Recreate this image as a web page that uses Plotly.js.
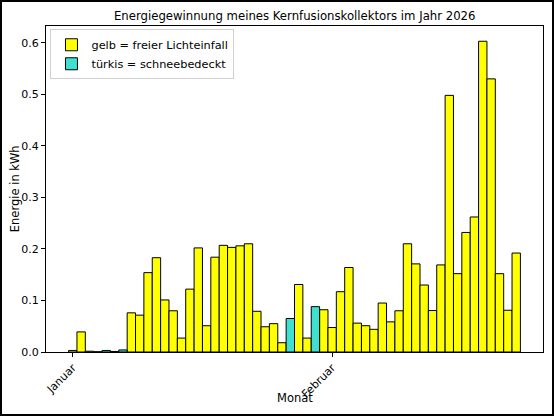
<!DOCTYPE html>
<html>
<head>
<meta charset="utf-8">
<script src="https://cdn.plot.ly/plotly-3.0.1.min.js"></script>
<style>
    html, body { margin: 0; padding: 0; background: #fff; }
    #wrap { position: relative; width: 554px; height: 416px; }
    #plot { width: 554px; height: 416px; }
    #frame { position: absolute; left: 0; top: 0; width: 554px; height: 416px;
             box-sizing: border-box; border: 2px solid #000; pointer-events: none; }
</style>
</head>
<body>
<div id="wrap">
    <div id="plot"></div>
    <div id="frame"></div>
</div>
<script>
// Tage 1. Januar – 23. Februar 2026
const days = [
    '2026-01-01','2026-01-02','2026-01-03','2026-01-04','2026-01-05','2026-01-06','2026-01-07',
    '2026-01-08','2026-01-09','2026-01-10','2026-01-11','2026-01-12','2026-01-13','2026-01-14',
    '2026-01-15','2026-01-16','2026-01-17','2026-01-18','2026-01-19','2026-01-20','2026-01-21',
    '2026-01-22','2026-01-23','2026-01-24','2026-01-25','2026-01-26','2026-01-27','2026-01-28',
    '2026-01-29','2026-01-30','2026-01-31','2026-02-01','2026-02-02','2026-02-03','2026-02-04',
    '2026-02-05','2026-02-06','2026-02-07','2026-02-08','2026-02-09','2026-02-10','2026-02-11',
    '2026-02-12','2026-02-13','2026-02-14','2026-02-15','2026-02-16','2026-02-17','2026-02-18',
    '2026-02-19','2026-02-20','2026-02-21','2026-02-22','2026-02-23'
];

// Energie in kWh pro Tag
const energy = [
    0.003, 0.039, 0.0015, 0.0005, 0.003, 0.001, 0.004,
    0.076, 0.0715, 0.154, 0.183, 0.101, 0.080, 0.027,
    0.122, 0.202, 0.051, 0.184, 0.207, 0.203, 0.206,
    0.210, 0.079, 0.049, 0.055, 0.018, 0.065, 0.131,
    0.027, 0.088, 0.082, 0.0475, 0.117, 0.164, 0.056,
    0.051, 0.044, 0.095, 0.0585, 0.080, 0.210, 0.171,
    0.130, 0.0805, 0.169, 0.498, 0.152, 0.232, 0.262,
    0.603, 0.530, 0.152, 0.081, 0.192
];

// schneebedeckt (1) oder freier Lichteinfall (0)
const snow = [
    0, 0, 0, 0, 1, 0, 1,
    0, 0, 0, 0, 0, 0, 0,
    0, 0, 0, 0, 0, 0, 0,
    0, 0, 0, 0, 0, 1, 0,
    0, 1, 0, 0, 0, 0, 0,
    0, 0, 0, 0, 0, 0, 0,
    0, 0, 0, 0, 0, 0, 0,
    0, 0, 0, 0, 0
];

const tickDays   = ['2026-01-01', '2026-02-01'];
const tickLabels = ['Januar', 'Februar'];

const DAY_MS = 86400000;
const FONT = 'DejaVu Sans, sans-serif';

function pick(flag) {
    const x = [], y = [];
    days.forEach((d, i) => {
        if (snow[i] === flag) { x.push(d); y.push(energy[i]); }
    });
    return { x, y };
}

const free = pick(0);
const covered = pick(1);

const barLine = { color: '#000', width: 1 };

const data = [
    { type: 'bar', x: free.x, y: free.y, width: DAY_MS,
      name: 'gelb = freier Lichteinfall',
      marker: { color: '#ffff00', line: barLine } },
    { type: 'bar', x: covered.x, y: covered.y, width: DAY_MS,
      name: 'türkis = schneebedeckt',
      marker: { color: '#40e0d0', line: barLine } }
];

const axisCommon = {
    showline: true, linecolor: '#000', linewidth: 1, mirror: true,
    showgrid: false, zeroline: false,
    ticks: 'outside', ticklen: 4, tickcolor: '#000', tickwidth: 1,
    tickfont: { family: FONT, size: 11, color: '#000' }
};

const titleFont = { family: FONT, size: 11.5, color: '#000' };

const layout = {
    width: 554, height: 416,
    margin: { l: 46, r: 11, t: 26, b: 64 },
    paper_bgcolor: '#fff', plot_bgcolor: '#fff',
    barmode: 'overlay',
    bargap: 0,
    title: { text: 'Energiegewinnung meines Kernfusionskollektors im Jahr 2026',
             font: { family: FONT, size: 11.7, color: '#000' },
             x: 0.532, xanchor: 'center', y: 0.962, yanchor: 'middle' },
    xaxis: Object.assign({}, axisCommon, {
        type: 'date',
        range: ['2025-12-28 19:12', '2026-02-26 04:48'],
        tickvals: tickDays, ticktext: tickLabels, tickangle: -45
    }),
    yaxis: Object.assign({}, axisCommon, {
        range: [0, 0.6326],
        tickvals: [0, 0.1, 0.2, 0.3, 0.4, 0.5, 0.6],
        tickformat: '.1f'
    }),
    annotations: [
        { text: 'Monat', xref: 'paper', yref: 'paper', x: 0.5, y: -0.142,
          xanchor: 'center', yanchor: 'middle', showarrow: false, font: titleFont },
        { text: 'Energie in kWh', xref: 'paper', yref: 'paper', x: -0.062, y: 0.5,
          xanchor: 'center', yanchor: 'middle', textangle: -90, showarrow: false, font: titleFont }
    ],
    showlegend: true,
    legend: {
        x: 0.009, y: 0.99, xanchor: 'left', yanchor: 'top',
        bgcolor: 'rgba(255,255,255,0.8)', bordercolor: '#d0d0d0', borderwidth: 1,
        font: { family: FONT, size: 11.3, color: '#000' },
        tracegroupgap: 0, itemwidth: 30
    }
};

Plotly.newPlot('plot', data, layout, { displayModeBar: false, staticPlot: true });
</script>
</body>
</html>
